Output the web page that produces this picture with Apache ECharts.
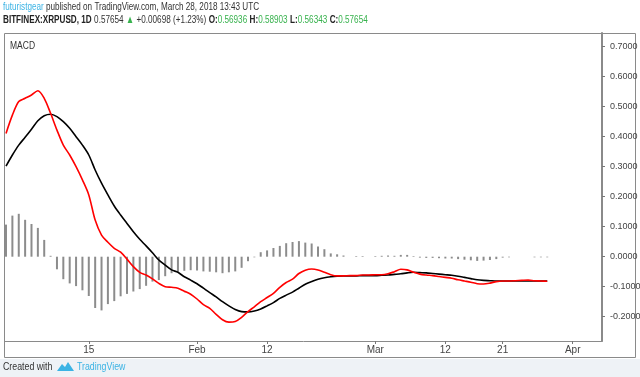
<!DOCTYPE html>
<html>
<head>
<meta charset="utf-8">
<script src="https://cdn.jsdelivr.net/npm/echarts@6.0.0/dist/echarts.min.js"></script>
<style>
  html, body { margin: 0; padding: 0; background: #fff; }
  #chart { width: 640px; height: 377px; }
</style>
</head>
<body>
<div id="chart"></div>
<script>
// 日期：第0天 = 1月2日，到3月28日（第85天）

// MACD 线（红）
const macdLine = [
  0.411, 0.472, 0.517, 0.528, 0.539, 0.553, 0.528, 0.478, 0.422, 0.372,
  0.339, 0.300, 0.256, 0.206, 0.122, 0.072, 0.048, 0.028, 0.015, -0.008,
  -0.033, -0.052, -0.061, -0.074, -0.089, -0.100, -0.102, -0.105, -0.115, -0.125,
  -0.141, -0.160, -0.172, -0.192, -0.210, -0.218, -0.216, -0.202, -0.183, -0.167,
  -0.150, -0.136, -0.122, -0.102, -0.086, -0.075, -0.056, -0.045, -0.041, -0.044,
  -0.052, -0.060, -0.064, -0.064, -0.063, -0.063, -0.061, -0.061, -0.060, -0.060,
  -0.057, -0.050, -0.042, -0.044, -0.052, -0.058, -0.061, -0.063, -0.066, -0.069,
  -0.072, -0.077, -0.081, -0.085, -0.090, -0.091, -0.088, -0.083, -0.081, -0.081,
  -0.080, -0.079, -0.078, -0.080, -0.081, -0.082
];

// 信号线（黑）
const signalLine = [
  0.302, 0.339, 0.372, 0.398, 0.425, 0.453, 0.470, 0.475, 0.467, 0.450,
  0.428, 0.400, 0.372, 0.339, 0.289, 0.245, 0.206, 0.169, 0.139, 0.111,
  0.083, 0.058, 0.036, 0.013, -0.011, -0.028, -0.044, -0.052, -0.067, -0.078,
  -0.090, -0.105, -0.120, -0.134, -0.150, -0.164, -0.176, -0.183, -0.184, -0.181,
  -0.174, -0.164, -0.153, -0.139, -0.128, -0.118, -0.105, -0.092, -0.083, -0.075,
  -0.070, -0.067, -0.065, -0.064, -0.064, -0.064, -0.063, -0.063, -0.063, -0.062,
  -0.061, -0.059, -0.057, -0.054, -0.052, -0.053, -0.054, -0.056, -0.058, -0.060,
  -0.062, -0.065, -0.069, -0.073, -0.077, -0.079, -0.080, -0.081, -0.081, -0.081,
  -0.081, -0.081, -0.081, -0.081, -0.081, -0.081
];

// 柱状图
const histogram = [
  0.107, 0.137, 0.143, 0.123, 0.109, 0.096, 0.056, 0.003, -0.042, -0.075,
  -0.089, -0.098, -0.112, -0.131, -0.171, -0.179, -0.158, -0.148, -0.132, -0.124,
  -0.116, -0.108, -0.097, -0.083, -0.078, -0.065, -0.055, -0.050, -0.047, -0.045,
  -0.046, -0.049, -0.050, -0.052, -0.055, -0.052, -0.049, -0.037, -0.015, -0.002,
  0.015, 0.021, 0.029, 0.036, 0.045, 0.049, 0.052, 0.047, 0.044, 0.034,
  0.025, 0.011, 0.008, 0.004, 0.000, 0.002, 0.002, 0.000, 0.002, 0.003,
  0.004, 0.003, 0.006, 0.006, 0.002, -0.003, -0.004, -0.004, -0.005, -0.006,
  -0.006, -0.008, -0.010, -0.012, -0.014, -0.013, -0.011, -0.008, -0.003, -0.002,
  0.000, 0.000, 0.000, -0.002, -0.002, -0.002
];

// 时间轴刻度（距1月2日的天数）
const tickDays = [13, 30, 41, 58, 69, 78, 89];
const tickLabels = ['15', 'Feb', '12', 'Mar', '12', '21', 'Apr'];

// 价格轴刻度
const priceTicks = [-0.2, -0.1, 0, 0.1, 0.2, 0.3, 0.4, 0.5, 0.6, 0.7];

const toPairs = (arr) => arr.map((v, i) => [i, v]);

const chart = echarts.init(document.getElementById('chart'), null, { renderer: 'canvas' });

const font = '"Liberation Sans", Arial, sans-serif';
// 窄字体效果
const narrow = 0.74;

const option = {
  animation: false,
  backgroundColor: '#ffffff',
  textStyle: { fontFamily: font },
  grid: {
    left: 5,
    right: 38,
    top: 33,
    bottom: 36,
    outerBoundsMode: 'none',
    containLabel: false
  },
  xAxis: {
    type: 'value',
    min: -0.16,
    max: 93.6,
    axisLine: { show: true, onZero: false, lineStyle: { color: '#8a8a8a', width: 1 } },
    axisTick: {
      show: true,
      length: 3,
      customValues: tickDays,
      lineStyle: { color: '#777' }
    },
    axisLabel: {
      customValues: tickDays,
      color: '#444',
      fontSize: 10,
      fontFamily: font,
      margin: 4,
      formatter: (v) => tickLabels[tickDays.indexOf(Math.round(v))] || ''
    },
    splitLine: { show: false }
  },
  yAxis: {
    type: 'value',
    position: 'right',
    min: -0.281,
    max: 0.7457,
    axisLine: { show: true, onZero: false, lineStyle: { color: '#8a8a8a', width: 2 } },
    axisTick: {
      show: true,
      length: 3,
      customValues: priceTicks,
      lineStyle: { color: '#777' }
    },
    axisLabel: {
      customValues: priceTicks,
      color: '#444',
      fontSize: 9,
      fontFamily: font,
      margin: 8,
      formatter: (v) => v.toFixed(4)
    },
    splitLine: { show: false }
  },
  series: [
    {
      name: 'Histogram',
      type: 'bar',
      data: toPairs(histogram),
      barWidth: 2,
      itemStyle: { color: '#8c8c8c' },
      z: 1
    },
    {
      name: 'Signal',
      type: 'line',
      data: toPairs(signalLine),
      showSymbol: false,
      smooth: 0.3,
      lineStyle: { color: '#000000', width: 1.6 },
      z: 2
    },
    {
      name: 'MACD',
      type: 'line',
      data: toPairs(macdLine),
      showSymbol: false,
      smooth: 0.3,
      lineStyle: { color: '#ff0000', width: 1.6 },
      z: 3
    }
  ],
  graphic: [
    // 外框
    {
      type: 'rect',
      shape: { x: 4.5, y: 33.5, width: 631, height: 324 },
      style: { fill: 'none', stroke: '#8a8a8a', lineWidth: 1 },
      z: -1,
      silent: true
    },
    // 底部区域
    {
      type: 'rect',
      shape: { x: 0, y: 359, width: 640, height: 18 },
      style: { fill: '#eef2f6' },
      silent: true
    },
    // 标题文字
    {
      type: 'text',
      x: 3,
      y: 1,
      scaleX: narrow,
      style: {
        text: '{b|futuristgear}{t| published on TradingView.com, March 28, 2018 13:43 UTC}',
        rich: {
          b: { fontSize: 11, fontFamily: font, fill: '#3bb3e4' },
          t: { fontSize: 11, fontFamily: font, fill: '#333' }
        }
      }
    },
    {
      type: 'text',
      x: 3,
      y: 14,
      scaleX: narrow,
      style: {
        text: '{h|BITFINEX:XRPUSD, 1D} {t|0.57654} {g|▲} {t|+0.00698 (+1.23%)} {h|O:}{g|0.56936} {h|H:}{g|0.58903} {h|L:}{g|0.56343} {h|C:}{g|0.57654}',
        rich: {
          h: { fontSize: 11, fontFamily: font, fontWeight: 'bold', fill: '#222' },
          t: { fontSize: 11, fontFamily: font, fill: '#333' },
          g: { fontSize: 11, fontFamily: font, fill: '#37b24d' }
        }
      }
    },
    {
      type: 'text',
      x: 10,
      y: 41,
      scaleX: 0.85,
      style: { text: 'MACD', fontSize: 10, fontFamily: font, fill: '#333' }
    },
    // 页脚
    {
      type: 'text',
      x: 3,
      y: 361,
      scaleX: 0.8,
      style: { text: 'Created with', fontSize: 11, fontFamily: font, fill: '#333' }
    },
    {
      type: 'polygon',
      shape: { points: [[57, 371], [62, 364], [65, 367], [68, 362], [74, 371]] },
      style: { fill: '#3bb3e4' }
    },
    {
      type: 'text',
      x: 77,
      y: 361,
      scaleX: 0.8,
      style: { text: 'TradingView', fontSize: 11, fontFamily: font, fill: '#3bb3e4' }
    }
  ]
};

chart.setOption(option);
</script>
</body>
</html>
